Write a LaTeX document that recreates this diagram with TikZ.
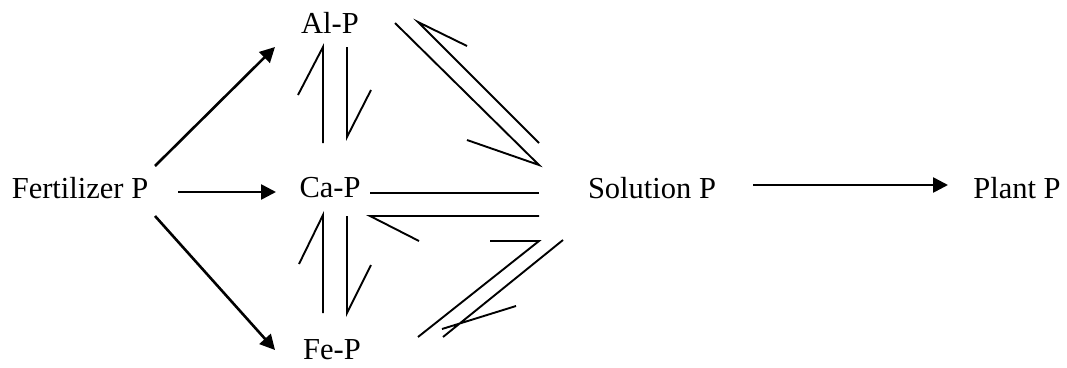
\documentclass[tikz,border=0pt]{standalone}
\usepackage{fontspec}
\setmainfont{Liberation Serif}
\usetikzlibrary{arrows.meta}
\begin{document}
\begin{tikzpicture}[x=1pt,y=-1pt,
  lbl/.style={inner sep=0pt, font=\fontsize{30.5}{36}\selectfont},
  flow/.style={line width=2.6pt, -{Triangle[length=15pt,width=15pt]}},
  harp/.style={line width=1.9pt, line cap=butt, line join=miter}]
\useasboundingbox (0,0) rectangle (1067,367);
% nodes
\node[lbl] (fert) at (80,188) {Fertilizer P};
\node[lbl] (al) at (330,23) {Al-P};
\node[lbl] (ca) at (330,188) {Ca-P};
\node[lbl] (fe) at (332,350) {Fe-P};
\node[lbl] (sol) at (652,188) {Solution P};
\node[lbl] (plant) at (1017,188) {Plant P};
% arrows from fertilizer
\coordinate (f1s) at (155,166); \coordinate (f1e) at (275,47);
\coordinate (f2s) at (178,192); \coordinate (f2e) at (276,192);
\coordinate (f3s) at (155,216); \coordinate (f3e) at (275,350);
\draw[flow] (f1s) -- (f1e);
\draw[flow] (f2s) -- (f2e);
\draw[flow] (f3s) -- (f3e);
\coordinate (s1) at (753,185); \coordinate (s2) at (948,185);
\draw[flow] (s1) -- (s2);
% Al-P <-> Ca-P
\coordinate (a1t) at (323,47); \coordinate (a1b) at (298,95); \coordinate (a1e) at (323,143);
\draw[harp] (a1b) -- (a1t) -- (a1e);
\coordinate (a2t) at (347,137); \coordinate (a2b) at (371,90); \coordinate (a2e) at (347,47);
\draw[harp] (a2b) -- (a2t) -- (a2e);
% Ca-P <-> Fe-P
\coordinate (c1t) at (323,215); \coordinate (c1b) at (299,264); \coordinate (c1e) at (323,313);
\draw[harp] (c1b) -- (c1t) -- (c1e);
\coordinate (c2t) at (347,313); \coordinate (c2b) at (371,265); \coordinate (c2e) at (347,216);
\draw[harp] (c2b) -- (c2t) -- (c2e);
% Al-P <-> Solution
\coordinate (d1s) at (395,23); \coordinate (d1t) at (539,165); \coordinate (d1b) at (467,140);
\draw[harp] (d1b) -- (d1t) -- (d1s);
\coordinate (d2s) at (539,143); \coordinate (d2t) at (418,22); \coordinate (d2b) at (467,46);
\draw[harp] (d2b) -- (d2t) -- (d2s);
% Ca-P <-> Solution
\coordinate (h1s) at (370,193); \coordinate (h1e) at (539,193);
\draw[harp] (h1s) -- (h1e);
\coordinate (h2t) at (370,216); \coordinate (h2b) at (419,241); \coordinate (h2e) at (539,216);
\draw[harp] (h2b) -- (h2t) -- (h2e);
% Fe-P <-> Solution
\coordinate (e1s) at (418,337); \coordinate (e1t) at (539,241); \coordinate (e1b) at (490,241);
\draw[harp] (e1b) -- (e1t) -- (e1s);
\coordinate (e2s) at (563,240); \coordinate (e2t) at (443,337);
\coordinate (e2b) at (516,306); \coordinate (e2x) at (442,329);
\draw[harp] (e2s) -- (e2t) (e2b) -- (e2x);
\end{tikzpicture}
\end{document}
